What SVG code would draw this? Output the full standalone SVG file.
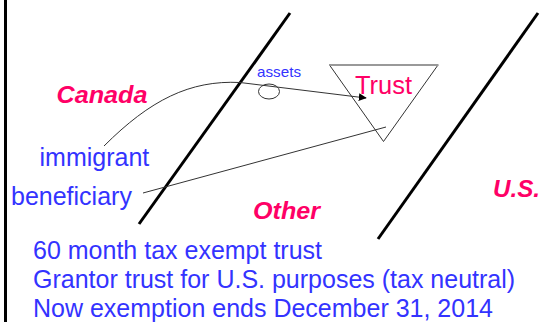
<svg xmlns="http://www.w3.org/2000/svg" width="541" height="322" viewBox="0 0 541 322">
<style>
.region{font-family:"Liberation Sans",Arial,sans-serif;font-weight:bold;font-style:italic;fill:#ff0066;font-size:24px}
.blue{font-family:"Liberation Sans",Arial,sans-serif;fill:#3333ff;font-size:25px}
.thick{stroke:#000;stroke-width:3;fill:none}
.thin{stroke:#333;stroke-width:1;fill:none}
</style>
<defs>
<marker id="arr" viewBox="0 0 10 10" refX="9" refY="5" markerWidth="8" markerHeight="8" markerUnits="userSpaceOnUse" orient="auto">
<path d="M0,0 L10,5 L0,10 z" fill="#000"/>
</marker>
</defs>
<rect width="541" height="322" fill="#fff"/>
<g id="borders">
<line class="thick" x1="5.5" y1="0" x2="5.5" y2="322"/>
<line class="thick" x1="290" y1="13" x2="139" y2="224"/>
<line class="thick" x1="538" y1="13" x2="378" y2="239"/>
</g>
<g id="trust">
<path d="M329.5,65 L383.5,141.5 L438,65" fill="none" stroke="#333" stroke-width="1"/>
<line x1="329" y1="65" x2="438.5" y2="65" stroke="#999" stroke-width="2"/>
<text class="region" x="355" y="94" style="font-weight:normal;font-style:normal;font-size:25px" textLength="57" lengthAdjust="spacingAndGlyphs">Trust</text>
</g>
<g id="assets">
<ellipse cx="269" cy="91.5" rx="10.5" ry="7.5" fill="none" stroke="#333" stroke-width="1"/>
<text class="blue" x="257" y="76.5" style="font-size:15px" textLength="44" lengthAdjust="spacingAndGlyphs">assets</text>
</g>
<g id="connectors">
<path class="thin" d="M104,146 C150,100 190,80 240,82.5 L366,98" marker-end="url(#arr)"/>
<line class="thin" x1="143" y1="193" x2="386" y2="127"/>
</g>
<g id="canada"><text class="region" x="56.5" y="102.5" textLength="91" lengthAdjust="spacingAndGlyphs">Canada</text></g>
<g id="other"><text class="region" x="253" y="218.5" textLength="67" lengthAdjust="spacingAndGlyphs">Other</text></g>
<g id="us"><text class="region" x="493" y="197" textLength="47" lengthAdjust="spacingAndGlyphs">U.S.</text></g>
<g id="immigrant"><text class="blue" x="39.5" y="166">immigrant</text></g>
<g id="beneficiary"><text class="blue" x="11" y="205">beneficiary</text></g>
<g id="notes">
<text class="blue" x="33" y="259">60 month tax exempt trust</text>
<text class="blue" x="33" y="288">Grantor trust for U.S. purposes (tax neutral)</text>
<text class="blue" x="33" y="316.5">Now exemption ends December 31, 2014</text>
</g>
</svg>
